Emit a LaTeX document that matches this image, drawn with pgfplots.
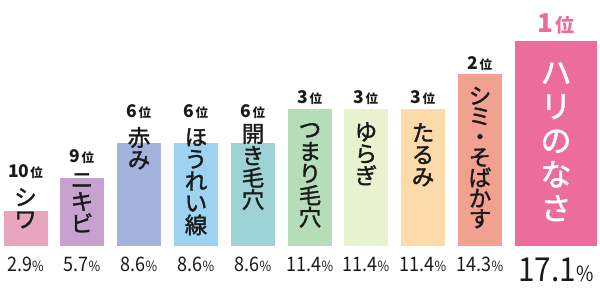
\documentclass[border=0pt]{standalone}
\usepackage{pgfplots}
\pgfplotsset{compat=1.18}
\usepackage{fontspec}
\setmainfont{Noto Sans CJK JP}
\newfontfamily\jpmed{Noto Sans CJK JP}[FakeBold=1.6]
\newfontfamily\pcf{Noto Sans CJK JP}[FakeStretch=0.9]
\definecolor{c1}{HTML}{E8A6BE}
\definecolor{c2}{HTML}{C8A2CE}
\definecolor{c3}{HTML}{A4B3DE}
\definecolor{c4}{HTML}{9DD3F0}
\definecolor{c5}{HTML}{9ED3D5}
\definecolor{c6}{HTML}{B5DDB8}
\definecolor{c7}{HTML}{E9F2CE}
\definecolor{c8}{HTML}{FDDAAA}
\definecolor{c9}{HTML}{F2A08F}
\definecolor{c10}{HTML}{EC6C9C}
\definecolor{txt}{HTML}{1A1A1A}
% rank label: x, baseline y, number
\newcommand{\rk}[3]{\node[anchor=base,inner sep=0pt,text=txt] at (axis cs:#1,#2) {{\fontsize{17.5}{18}\selectfont\bfseries #3}\hspace{1pt}{\fontsize{12.5}{13}\selectfont\bfseries 位}};}
% vertical category label: x, top y, line pitch, text
\newcommand{\lb}[4]{\node[anchor=north,inner sep=0pt,align=center,text=txt,font=\jpmed\fontsize{22.5}{#3}\selectfont] at (axis cs:#1,#2) {#4};}
% percentage: x, value text
\newcommand{\pc}[2]{\node[anchor=base,inner sep=0pt,text=txt] at (axis cs:#1,-2.14) {\pcf{\fontsize{20}{20}\selectfont #2}{\fontsize{14}{14}\selectfont\%}};}
\begin{document}
\begin{tikzpicture}
\begin{axis}[name=ax,width=600pt,height=296pt,scale only axis,
  xmin=0,xmax=600,ymin=-4.1667,ymax=20.5,
  axis lines=none,xtick=\empty,ytick=\empty,clip=false,
  ybar,bar width=44,bar shift=0pt]
\addplot[fill=c1,draw=none] coordinates {(25.5,2.9)};
\addplot[fill=c2,draw=none] coordinates {(82,5.7)};
\addplot[fill=c3,draw=none] coordinates {(139,8.6)};
\addplot[fill=c4,draw=none] coordinates {(196,8.6)};
\addplot[fill=c5,draw=none] coordinates {(253,8.6)};
\addplot[fill=c6,draw=none] coordinates {(310,11.4)};
\addplot[fill=c7,draw=none] coordinates {(366,11.4)};
\addplot[fill=c8,draw=none] coordinates {(423,11.4)};
\addplot[fill=c9,draw=none] coordinates {(480,14.3)};
\addplot[fill=c10,draw=none,bar width=82] coordinates {(556,17.1)};
\rk{25.5}{5.69}{10}
\rk{82}{6.92}{9}
\rk{139}{10.67}{6}
\rk{196}{10.67}{6}
\rk{253}{10.67}{6}
\rk{310}{11.89}{3}
\rk{366}{11.89}{3}
\rk{423}{11.89}{3}
\rk{480}{14.67}{2}
\node[anchor=base,inner sep=0pt,text=c10] at (axis cs:556,17.83) {{\fontsize{26}{26}\selectfont\bfseries 1}\hspace{2pt}{\fontsize{19}{19}\selectfont\bfseries 位}};
\lb{25.5}{4.83}{22}{シ\\ワ}
\lb{82}{6.08}{22}{ニ\\キ\\ビ}
\lb{139}{9.92}{22}{赤\\み}
\lb{196}{9.83}{22}{ほ\\う\\れ\\い\\線}
\lb{253}{10.17}{22}{開\\き\\毛\\穴}
\lb{310}{10.25}{22}{つ\\ま\\り\\毛\\穴}
\lb{366}{10.33}{22}{ゆ\\ら\\ぎ}
\lb{423}{10.25}{22}{た\\る\\み}
\lb{480}{13.28}{20.5}{シ\\ミ\\・\\そ\\ば\\か\\す}
\node[anchor=north,inner sep=0pt,align=center,text=white,font=\jpmed\fontsize{31}{34}\selectfont] at (axis cs:556,15.33) {ハ\\リ\\の\\な\\さ};
\pc{25.5}{2.9}
\pc{82}{5.7}
\pc{139}{8.6}
\pc{196}{8.6}
\pc{253}{8.6}
\pc{310}{11.4}
\pc{366}{11.4}
\pc{423}{11.4}
\pc{480}{14.3}
\node[anchor=base,inner sep=0pt,text=txt] at (axis cs:556,-2.92) {\pcf{\fontsize{33}{33}\selectfont 17.1}{\fontsize{21}{21}\selectfont\%}};
\end{axis}
\pgfresetboundingbox
\path (ax.south west) rectangle (ax.north east);
\end{tikzpicture}
\end{document}
